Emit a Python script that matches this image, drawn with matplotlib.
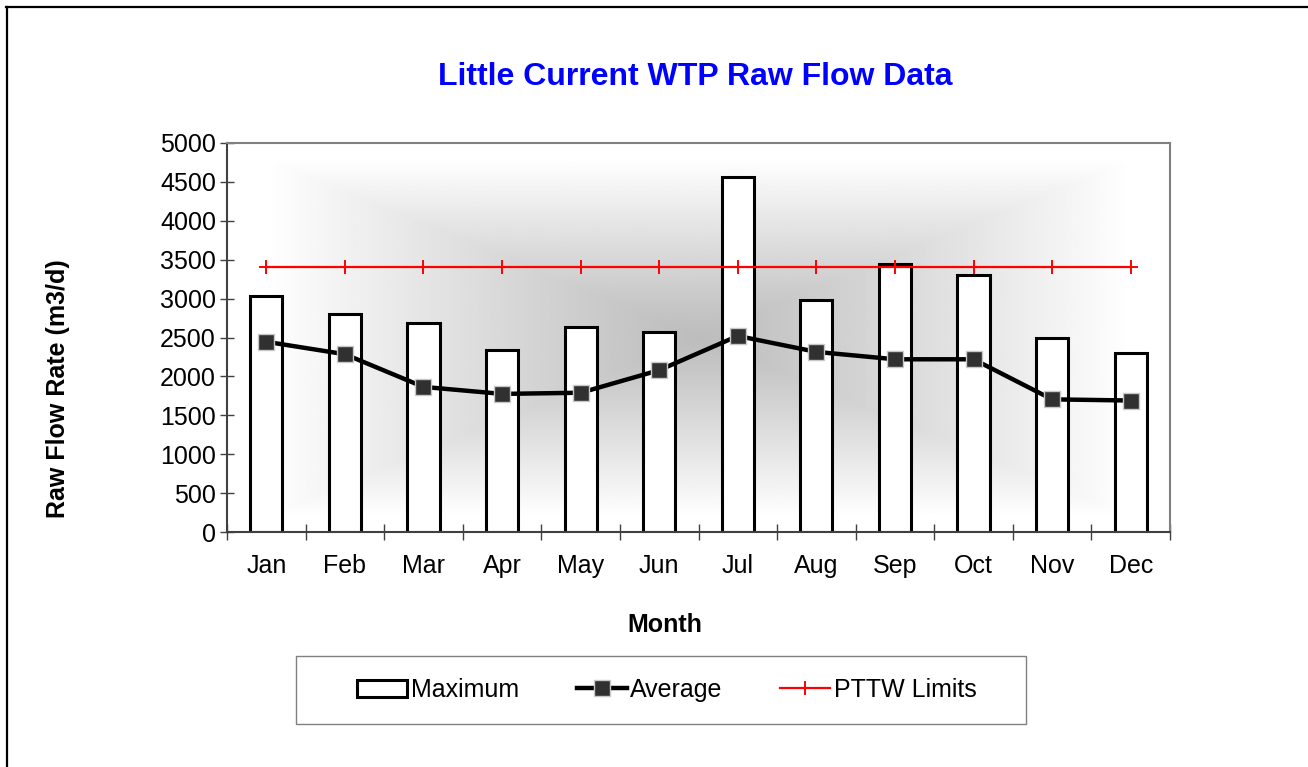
import numpy as np
import matplotlib
matplotlib.use("agg")
import matplotlib.pyplot as plt
from matplotlib.patches import Rectangle
from matplotlib.lines import Line2D

months = ["Jan", "Feb", "Mar", "Apr", "May", "Jun",
          "Jul", "Aug", "Sep", "Oct", "Nov", "Dec"]
maximum = [3030, 2800, 2690, 2340, 2630, 2570,
           4560, 2985, 3445, 3300, 2500, 2300]
average = [2445, 2285, 1865, 1775, 1790, 2080,
           2520, 2315, 2220, 2220, 1705, 1690]
pttw = [3400] * 12

plt.rcParams["font.family"] = ["Liberation Sans", "DejaVu Sans"]

W, H = 1308, 767
fig = plt.figure(figsize=(W / 100, H / 100), dpi=100)


def fx(px):
    return px / W


def fy(py):
    return 1 - py / H


ax = fig.add_axes([fx(227), fy(532), fx(1170) - fx(227), fy(143) - fy(532)])
x = np.arange(len(months))

# ## Background: rectangular "from centre" gradient ##
u = np.linspace(-1, 1, 400)
v = np.linspace(-1, 1, 300)
U, V = np.meshgrid(u, v)
t = np.clip(np.maximum(np.abs(U), np.abs(V)) / 0.92, 0, 1)
shade = 0.74 + 0.26 * t ** 1.1
ax.imshow(shade, cmap="gray", vmin=0, vmax=1, aspect="auto",
          extent=[-0.5, 11.5, 0, 5000], zorder=0, interpolation="bilinear")

h_max = ax.bar(x, maximum, width=0.41, color="white", edgecolor="black",
               linewidth=2.2, zorder=2, label="Maximum")
h_avg, = ax.plot(x, average, color="black", lw=3.2, marker="s", ms=11.5,
                 mfc="#303030", mec="#c8c8c8", mew=1.0, zorder=4,
                 label="Average")
h_lim, = ax.plot(x, pttw, color="red", lw=1.6, marker="+", ms=10, mew=1.4,
                 zorder=3, label="PTTW Limits")

ax.set_xlim(-0.5, 11.5)
ax.set_ylim(0, 5000)
ax.set_yticks(np.arange(0, 5001, 500))
ax.set_xticks(x)
ax.set_xticklabels(months)
ax.set_xticks(np.arange(-0.5, 12, 1), minor=True)
ax.tick_params(axis="x", which="major", length=0, pad=16, labelsize=18)
ax.tick_params(axis="x", which="minor", direction="inout", length=11,
               width=1, color="#404040")
ax.tick_params(axis="y", direction="inout", length=10, width=1,
               color="#404040", pad=3, labelsize=18)

for side in ["left", "bottom"]:
    ax.spines[side].set_color("#404040")
    ax.spines[side].set_linewidth(1.5)
for side in ["top", "right"]:
    ax.spines[side].set_color("#808080")
    ax.spines[side].set_linewidth(1.5)

fig.text(fx(695), fy(85), "Little Current WTP Raw Flow Data",
         ha="center", va="baseline", fontsize=23, fontweight="bold",
         color="#0000ff")
fig.text(fx(665), fy(632), "Month", ha="center", va="baseline",
         fontsize=18, fontweight="bold")
fig.text(fx(58), fy(389), "Raw Flow Rate (m3/d)", rotation=90,
         ha="center", va="center", fontsize=18, fontweight="bold")

# Legend box and entries
fig.patches.append(Rectangle((fx(296), fy(724)), fx(1026) - fx(296),
                             fy(656) - fy(724), transform=fig.transFigure,
                             facecolor="white", edgecolor="#808080", lw=1))
fig.legend([h_max, h_avg, h_lim], ["Maximum", "Average", "PTTW Limits"],
           loc="center", bbox_to_anchor=(fx(667), fy(690)),
           ncol=3, frameon=False, fontsize=18, handlelength=2.0,
           handletextpad=0.15, columnspacing=2.3)

# Outer frame (left and top edges visible)
fig.lines.append(Line2D([fx(7), fx(7)], [0, fy(7)], transform=fig.transFigure,
                        color="black", lw=1.6))
fig.lines.append(Line2D([fx(6), 1], [fy(7), fy(7)], transform=fig.transFigure,
                        color="black", lw=1.6))

fig.savefig("out.png", dpi=100)
